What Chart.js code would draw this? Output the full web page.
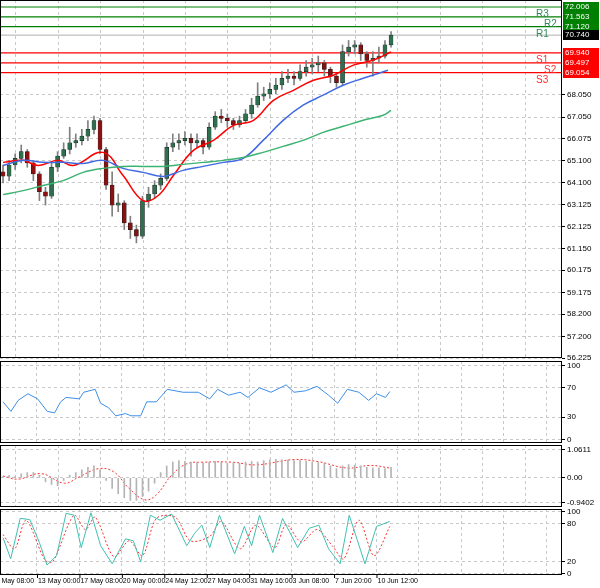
<!DOCTYPE html>
<html>
<head>
<meta charset="utf-8">
<script src="https://cdn.jsdelivr.net/npm/chart.js@4.4.1/dist/chart.umd.min.js"></script>
<style>
  body { margin: 0; background: #fff; }
  .wrap { position: relative; width: 600px; height: 588px; overflow: hidden; }
  canvas { position: absolute; left: 0; }
</style>
</head>
<body>
<div class="wrap">
  <canvas id="cMain" style="top:0px"></canvas>
  <canvas id="cRsi" style="top:361px"></canvas>
  <canvas id="cMacd" style="top:445px"></canvas>
  <canvas id="cSto" style="top:509px"></canvas>
</div>
<script>
// candles (one per bar index)
const opens  = [64.6,64.4,64.9,65.2,65.5,65.0,64.5,63.7,63.5,64.8,65.3,65.6,65.9,66.0,66.2,66.5,66.9,65.6,64.0,63.1,63.2,62.3,62.0,61.7,63.3,63.6,64.0,64.3,65.7,65.9,66.0,66.1,65.9,66.0,65.7,66.6,67.1,67.0,66.9,66.7,66.9,67.2,67.6,68.0,68.1,68.3,68.5,68.8,68.9,68.8,69.1,69.3,69.4,69.5,69.2,68.9,68.6,70.0,70.2,70.3,69.9,69.6,69.7,69.8,70.3];
const highs  = [64.9,65.1,65.4,65.8,65.6,65.1,64.6,63.9,65.0,65.5,65.9,66.6,66.3,66.5,66.9,67.1,67.0,65.7,64.6,63.6,63.3,62.6,62.2,63.5,63.9,64.2,64.5,65.9,66.3,66.3,66.4,66.3,66.3,66.1,66.8,67.3,67.4,67.2,67.0,67.1,67.4,67.9,68.6,68.4,68.6,68.8,69.1,69.2,69.1,69.4,69.6,69.7,69.8,69.6,69.3,69.0,70.3,70.5,70.5,70.4,70.0,70.0,70.2,70.5,70.9];
const lows   = [64.1,64.2,64.7,65.0,64.8,64.2,63.3,63.1,63.4,64.6,65.2,65.4,65.7,65.8,66.0,66.3,65.4,63.8,62.6,62.8,62.0,61.6,61.4,61.6,63.0,63.4,63.8,64.2,65.5,65.6,65.8,65.3,65.7,65.4,65.6,66.5,66.8,66.6,66.5,66.6,66.8,67.0,67.5,67.8,67.9,68.1,68.3,68.6,68.5,68.7,68.9,69.0,69.1,68.9,68.6,68.4,68.5,69.8,69.9,69.6,69.3,68.9,69.5,69.7,70.2];
const closes = [64.4,64.9,65.2,65.5,65.0,64.5,63.7,63.5,64.8,65.3,65.6,65.9,66.0,66.2,66.5,66.9,65.6,64.0,63.1,63.2,62.3,62.0,61.7,63.3,63.6,64.0,64.3,65.7,65.9,66.0,66.1,65.9,66.0,65.7,66.6,67.1,67.0,66.9,66.7,66.9,67.2,67.6,68.0,68.1,68.3,68.5,68.8,68.9,68.8,69.1,69.3,69.4,69.5,69.2,68.9,68.6,70.0,70.2,70.3,69.9,69.6,69.7,69.8,70.3,70.74];

// moving averages: bar index / value
const maFastX = [0,3.3,5.8,9.1,11.6,16.5,19.8,23.1,25.6,28.1,31.4,34.7,38,41.3,44.6,47.9,51.2,54.5,57.8,61.1,64];
const maFastY = [65.02,65.11,64.88,65.11,64.88,65.47,64.43,63.30,63.53,64.43,65.56,66.01,66.68,66.91,67.81,68.26,68.71,68.94,69.39,69.62,69.98];
const maMidX  = [0,3.3,6.6,9.9,13.2,16.5,19.8,23.1,26.4,29.7,33,36.3,39.6,42.9,46.2,49.5,52.8,56.1,59.4,63.5];
const maMidY  = [64.88,65.11,65.02,65.02,64.97,65.11,64.75,64.57,64.39,64.66,64.84,65.02,65.20,66.01,66.91,67.59,68.04,68.49,68.80,69.16];
const maSlowX = [0,3.3,6.6,9.9,13.2,16.5,19.8,23.1,26.4,29.7,33,36.3,39.6,42.9,46.2,49.5,52.8,56.1,59.4,62.7,64];
const maSlowY = [63.57,63.75,63.98,64.20,64.57,64.75,64.84,64.84,64.84,64.93,65.02,65.11,65.24,65.47,65.74,66.01,66.37,66.64,66.91,67.14,67.36];

// pivot levels
const levelNames  = ["R3","R2","R1","","S1","S2","S3"];
const levelValues = [72.006,71.563,71.120,70.740,69.940,69.497,69.054];
const levelColors = ["#008000","#008000","#008000","#000000","#ff0000","#ff0000","#ff0000"];

const priceTicks = [68.050,67.050,66.075,65.100,64.100,63.125,62.125,61.150,60.175,59.175,58.200,57.200,56.225];

// RSI
const rsiX = [0,1.3,2.5,4.1,5.7,7.3,8.5,9.5,10.4,12.6,13.3,15.2,16.1,17.4,18.6,20.2,21.1,22.7,23.7,25.3,27.1,29.7,32.2,34.1,35.4,37.2,39.1,40.4,42.3,44.2,46.7,48,49.9,51.8,53.7,55.2,56.8,58.7,60.3,61.6,63.1,63.8];
const rsiY = [51,38,53,62,55,38,36,51,57,55,64,68,49,43,32,35,32,32,51,51,68,64,64,55,68,60,64,57,70,64,74,64,66,72,60,49,68,64,53,62,57,65];

// MACD
const macdHist = [0.05,0.1,0.05,0.15,0.2,0.2,0.1,-0.15,-0.25,-0.3,-0.1,0.1,0.2,0.3,0.4,0.45,0.3,-0.1,-0.4,-0.6,-0.75,-0.85,-0.85,-0.7,-0.5,-0.2,0.2,0.45,0.6,0.65,0.62,0.6,0.58,0.55,0.6,0.62,0.6,0.55,0.58,0.55,0.6,0.62,0.6,0.65,0.68,0.7,0.68,0.68,0.65,0.66,0.62,0.6,0.58,0.55,0.45,0.35,0.45,0.5,0.48,0.45,0.4,0.38,0.38,0.35,0.4];
const macdSigX = [0,2.5,6.3,10.1,12.6,15.8,18.3,20.8,23.4,25.3,27.8,30.3,32.8,37.9,41.7,48.0,51.8,56.8,60.6,63.8];
const macdSigY = [0.07,-0.05,0.16,-0.2,0.04,0.35,0.22,-0.4,-0.83,-0.64,0.1,0.53,0.59,0.59,0.49,0.69,0.62,0.37,0.47,0.37];

// Stochastic
const stoKX = [0,1.26,2.84,4.42,6.0,7.26,8.84,10.4,11.7,12.9,14.5,16.1,18.0,20.2,21.5,22.7,24.3,25.9,27.8,30.3,31.6,32.8,34.1,35.7,38.2,39.8,41.0,42.3,44.5,46.1,48.6,50.5,52.1,53.7,55.6,57.1,59.7,61.6,63.8];
const stoKY = [58,24,89,87,50,14,29,97,94,42,98,45,16,56,53,19,94,86,96,45,65,78,42,94,32,76,45,94,34,89,42,73,78,40,16,94,16,76,84];
const stoDX = [0,1.9,3.8,6.9,8.2,11.7,13.6,15.2,18.3,20.8,23.0,25.3,28.4,30.9,34.1,36.0,39.1,41.7,44.8,46.7,49.2,51.8,54.3,56.2,58.7,61.2,63.8];
const stoDY = [63,40,86,22,19,94,71,91,27,53,29,89,91,53,60,84,40,78,42,79,51,71,45,24,86,29,76];

// time axis
const timeTickX = [-1.4,5.6,12.6,19.6,26.6,33.6,40.6,47.6,54.6,61.6,68.6,75.6,82.6,89.6];
const timeLabels = ["9 May 08:00","13 May 00:00","17 May 08:00","20 May 00:00","24 May 12:00","27 May 04:00","31 May 16:00","3 Jun 08:00","7 Jun 20:00","10 Jun 12:00"];

const X_MIN = -0.5, X_MAX = 92.2;
const FONT = { family: "Liberation Sans", size: 8 };

const pts = (xs, ys) => xs.map((x, i) => ({ x: x, y: ys[i] }));

const frame = {
  id: "frame",
  afterDraw(c) {
    const a = c.chartArea, ctx = c.ctx;
    ctx.save();
    ctx.strokeStyle = "#000";
    ctx.lineWidth = 1;
    ctx.strokeRect(a.left + 0.5, a.top + 0.5, a.right - a.left - 1, a.bottom - a.top - 1);
    ctx.restore();
  }
};

function noPad(s) { s.paddingTop = 0; s.paddingBottom = 0; s.paddingLeft = 0; s.paddingRight = 0; }

function makePanel(id, h, yMin, yMax, yTicks, fmt, datasets, plugins, padBottom) {
  const cv = document.getElementById(id);
  cv.width = 600; cv.height = h;
  cv.style.width = "600px"; cv.style.height = h + "px";
  return new Chart(cv, {
    data: { datasets: datasets },
    options: {
      responsive: false, animation: false, devicePixelRatio: 1,
      layout: { autoPadding: false, padding: { top: 0, bottom: padBottom || 0, left: 0, right: 0 } },
      plugins: { legend: { display: false }, tooltip: { enabled: false } },
      scales: {
        x: {
          type: "linear", min: X_MIN, max: X_MAX, offset: false,
          afterBuildTicks: s => { s.ticks = timeTickX.map(v => ({ value: v })); },
          afterFit: s => { s.height = 0; noPad(s); },
          ticks: { display: false },
          grid: { color: "#c8c8c8", drawTicks: false },
          border: { display: false, dash: [3, 3] }
        },
        y: {
          position: "right", min: yMin, max: yMax,
          afterBuildTicks: s => { s.ticks = yTicks.map(v => ({ value: v })); },
          afterFit: s => { s.width = 38; noPad(s); },
          ticks: { font: FONT, color: "#000", padding: 2, callback: fmt, autoSkip: false },
          grid: { color: "#c8c8c8", tickLength: 3, tickColor: "#000" },
          border: { display: false, dash: [3, 3] }
        }
      }
    },
    plugins: [frame].concat(plugins || [])
  });
}

// main price panel
const levelsPlugin = {
  id: "levels",
  afterDraw(c) {
    const ctx = c.ctx, a = c.chartArea, y = c.scales.y;
    ctx.save();
    levelValues.forEach((v, i) => {
      const py = Math.round(y.getPixelForValue(v));
      ctx.font = "8px 'Liberation Sans'";
      ctx.fillStyle = levelColors[i];
      ctx.fillRect(a.right + 1, py - 5, 36, 10);
      ctx.fillStyle = "#fff";
      ctx.textAlign = "left"; ctx.textBaseline = "middle";
      ctx.fillText(v.toFixed(3), a.right + 3, py);
      if (levelNames[i]) {
        ctx.font = "10px 'Liberation Sans'";
        ctx.fillStyle = i < 3 ? "#2e8b57" : "#ff3030";
        const off = (i === 1 || i === 5) ? 12 : 4;
        ctx.fillText(levelNames[i], a.right - 30 + off, py + 7);
      }
    });
    ctx.restore();
  }
};

const candleIdx = closes.map((_, i) => i);
const mainSets = [
  { type: "bar", order: 3, grouped: false, barThickness: 1,
    data: candleIdx.map(i => ({ x: i, y: [lows[i], highs[i]] })),
    backgroundColor: "#808080" },
  { type: "bar", order: 2, grouped: false, barThickness: 4,
    data: candleIdx.map(i => ({ x: i, y: [opens[i], closes[i]] })),
    backgroundColor: candleIdx.map(i => closes[i] >= opens[i] ? "#2f6f4f" : "#8b1010"),
    borderColor: "#1a1a1a", borderWidth: 0.5, borderSkipped: false }
];
levelValues.forEach((v, i) => {
  mainSets.push({ type: "line", order: 5, data: [{ x: X_MIN, y: v }, { x: X_MAX, y: v }],
    borderColor: i === 3 ? "#b0b0b0" : levelColors[i], borderWidth: i === 3 ? 1 : 1.2, pointRadius: 0 });
});
[[maSlowX, maSlowY, "#3cb371"], [maMidX, maMidY, "#4169e1"], [maFastX, maFastY, "#ff0000"]].forEach(m => {
  mainSets.push({ type: "line", order: 1, data: pts(m[0], m[1]), borderColor: m[2],
    borderWidth: 1.5, pointRadius: 0, tension: 0.4 });
});
makePanel("cMain", 363, 56.225, 72.32, priceTicks, v => v.toFixed(3), mainSets, [levelsPlugin], 5);

// RSI
makePanel("cRsi", 82, -5, 106.5, [100, 70, 30, 0], v => v, [
  { type: "line", data: pts(rsiX, rsiY), borderColor: "#3d8fe6", borderWidth: 1, pointRadius: 0 }
]);

// MACD
makePanel("cMacd", 62, -1.10, 1.24, [1.0611, 0, -0.9402], v => v === 0 ? "0.00" : v.toString(), [
  { type: "bar", barThickness: 1, data: candleIdx.map(i => ({ x: i, y: macdHist[i] })), backgroundColor: "#b4b4b4" },
  { type: "line", data: pts(macdSigX, macdSigY), borderColor: "#ff3030", borderWidth: 1,
    borderDash: [2, 2], pointRadius: 0, tension: 0.4 }
]);

// Stochastic + time labels
const timePlugin = {
  id: "timeLabels",
  afterDraw(c) {
    const ctx = c.ctx, x = c.scales.x, a = c.chartArea;
    ctx.save();
    ctx.font = "7px 'Liberation Sans'";
    ctx.fillStyle = "#000";
    ctx.textAlign = "left"; ctx.textBaseline = "top";
    timeLabels.forEach((t, i) => {
      const px = x.getPixelForValue(timeTickX[i]);
      ctx.fillText(t, px + 1, a.bottom + 3);
      ctx.fillRect(px, a.bottom, 1, 3);
    });
    ctx.restore();
  }
};
makePanel("cSto", 79, -2, 104, [100, 80, 20, 0], v => v, [
  { type: "line", data: pts(stoKX, stoKY), borderColor: "#40c0b0", borderWidth: 1, pointRadius: 0 },
  { type: "line", data: pts(stoDX, stoDY), borderColor: "#ff3030", borderWidth: 1,
    borderDash: [2, 2], pointRadius: 0, tension: 0.3 }
], [timePlugin], 13);
</script>
</body>
</html>
